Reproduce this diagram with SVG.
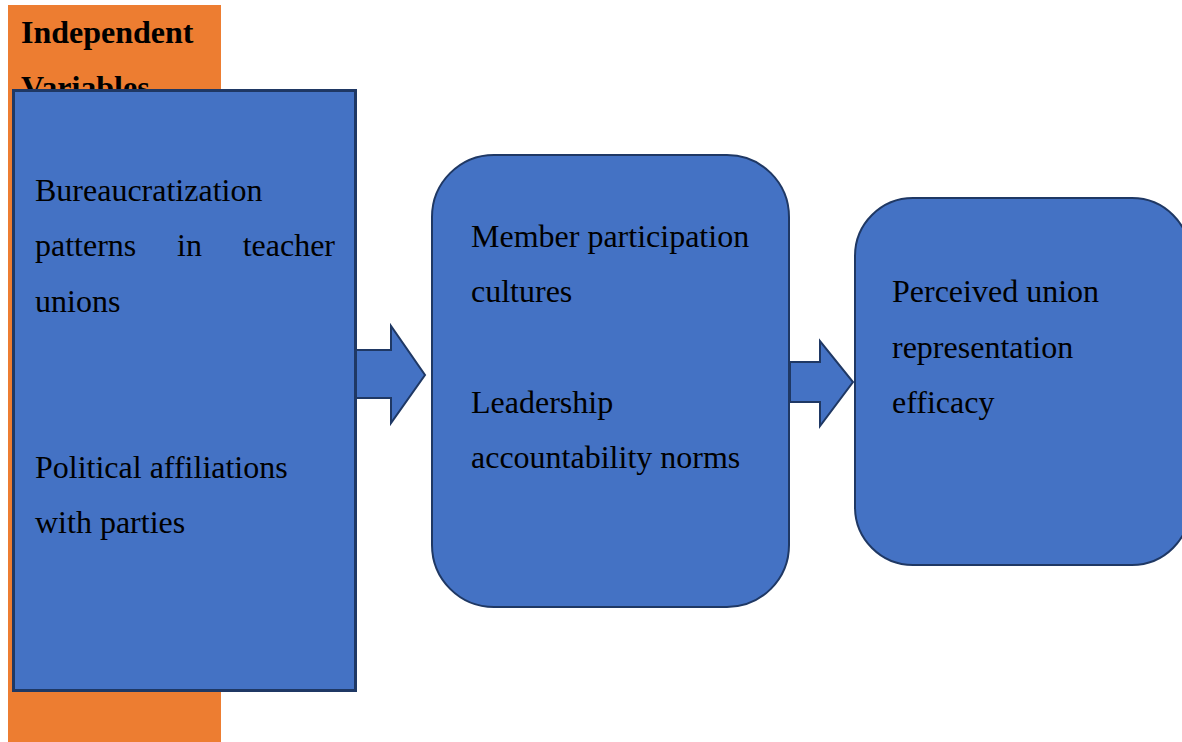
<svg xmlns="http://www.w3.org/2000/svg" width="1182" height="742" viewBox="0 0 1182 742">
  <style>
    .box { fill: #4472c4; stroke: #1f3864; }
    .txt { font-family: "Liberation Serif", "Times New Roman", serif; font-size: 32px; fill: #000; }
    .hdr { font-family: "Liberation Serif", "Times New Roman", serif; font-size: 32px; font-weight: bold; fill: #000; }
    .arrow { fill: #4472c4; stroke: #1f3864; stroke-width: 2; stroke-linejoin: miter; }
  </style>
  <rect width="1182" height="742" fill="#ffffff"/>

  <!-- Independent variables panel -->
  <g id="independent-panel">
    <rect x="8" y="5" width="213" height="737" fill="#ed7d31"/>
    <text class="hdr" x="21" y="43">Independent</text>
    <text class="hdr" x="21" y="98">Variables</text>
  </g>

  <!-- Connectors (block arrows) -->
  <g id="connectors">
    <polygon class="arrow" points="355,350 391,350 391,326 425,375 391,423 391,398 355,398"/>
    <polygon class="arrow" points="790,362 820,362 820,341 853,382 820,426 820,402 790,402"/>
  </g>

  <!-- Independent variables box -->
  <g id="node-independent">
    <rect class="box" x="13.5" y="90.5" width="342" height="600" stroke-width="3"/>
    <text class="txt" x="35" y="201">Bureaucratization</text>
    <text class="txt" y="256"><tspan x="35">patterns</tspan><tspan x="177">in</tspan><tspan x="335" text-anchor="end">teacher</tspan></text>
    <text class="txt" x="35" y="312">unions</text>
    <text class="txt" x="35" y="478">Political affiliations</text>
    <text class="txt" x="35" y="533">with parties</text>
  </g>

  <!-- Mediating variables box -->
  <g id="node-mediating">
    <rect class="box" x="432" y="155" width="357" height="452" rx="62" ry="62" stroke-width="2"/>
    <text class="txt" x="471" y="247">Member participation</text>
    <text class="txt" x="471" y="302">cultures</text>
    <text class="txt" x="471" y="413">Leadership</text>
    <text class="txt" x="471" y="468">accountability norms</text>
  </g>

  <!-- Dependent variable box -->
  <g id="node-dependent">
    <rect class="box" x="855" y="198" width="335" height="367" rx="58" ry="58" stroke-width="2"/>
    <text class="txt" x="892" y="302">Perceived union</text>
    <text class="txt" x="892" y="358">representation</text>
    <text class="txt" x="892" y="413">efficacy</text>
  </g>
</svg>
